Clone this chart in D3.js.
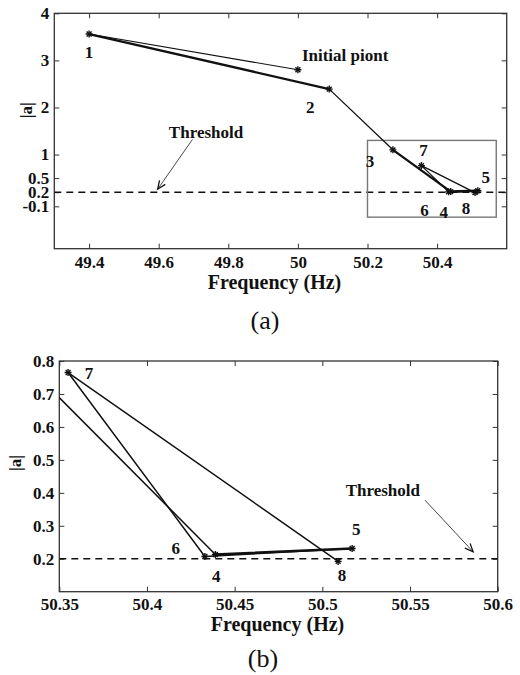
<!DOCTYPE html>
<html><head><meta charset="utf-8">
<script src="https://cdn.jsdelivr.net/npm/d3@7"></script>
<style>
body{margin:0;background:#fff;}
svg{display:block;font-family:"Liberation Serif","Times New Roman",serif;}
</style></head>
<body><svg id="c" width="520" height="675"></svg>
<script>
// ---- data ----
const pointLabels = ["Initial piont","1","2","3","4","5","6","7","8"];
const frequency   = [50.0, 49.4, 50.09, 50.273, 50.439, 50.517, 50.433, 50.355, 50.509];
const magnitude   = [2.8, 3.56, 2.39, 1.10, 0.213, 0.231, 0.207, 0.765, 0.192];
const threshold = 0.2;
const xTicksA = [49.4, 49.6, 49.8, 50, 50.2, 50.4];
const yTicksA = [4, 3, 2, 1, 0.5, 0.2, -0.1];
const xTicksB = [50.35, 50.4, 50.45, 50.5, 50.55, 50.6];
const yTicksB = [0.2, 0.3, 0.4, 0.5, 0.6, 0.7, 0.8];
const zoomBoxA = {x0: 50.2, x1: 50.57, y0: -0.33, y1: 1.3};

// ---- layout / style ----
const svg = d3.select("#c");
const FONT = 17;

function panel(cfg){
  const g = svg.append("g").attr("transform",`translate(${cfg.left},${cfg.top})`);
  const w = cfg.right-cfg.left, h = cfg.bottom-cfg.top;
  const x = d3.scaleLinear().domain(cfg.xDomain).range([0,w]);
  const y = d3.scaleLinear().domain(cfg.yDomain).range([h,0]);
  const clipId = "clip"+cfg.id;
  g.append("clipPath").attr("id",clipId).append("rect").attr("width",w).attr("height",h);

  const fmt = d => String(d);
  const styleAxis = sel => {
    sel.select(".domain").remove();
    sel.selectAll("line").attr("stroke","#333").attr("stroke-width",1);
    sel.selectAll("text").attr("font-size",FONT).attr("font-weight","bold")
      .attr("font-family","Liberation Serif, serif").attr("fill","#111");
  };
  g.append("g").attr("transform",`translate(0,${h})`)
    .call(d3.axisBottom(x).tickValues(cfg.xTicks).tickFormat(fmt).tickSizeInner(-5).tickSizeOuter(0).tickPadding(cfg.xPad))
    .call(styleAxis);
  g.append("g")
    .call(d3.axisTop(x).tickValues(cfg.xTicks).tickFormat("").tickSizeInner(-5).tickSizeOuter(0))
    .call(styleAxis);
  g.append("g")
    .call(d3.axisLeft(y).tickValues(cfg.yTicks).tickFormat(fmt).tickSizeInner(-5).tickSizeOuter(0).tickPadding(5))
    .call(styleAxis);
  g.append("g").attr("transform",`translate(${w},0)`)
    .call(d3.axisRight(y).tickValues(cfg.yTicks).tickFormat("").tickSizeInner(-5).tickSizeOuter(0))
    .call(styleAxis);
  g.append("rect").attr("width",w).attr("height",h).attr("fill","none")
    .attr("stroke","#333").attr("stroke-width",1.3);

  const plot = g.append("g").attr("clip-path",`url(#${clipId})`);
  // threshold
  plot.append("line").attr("x1",0).attr("x2",w).attr("y1",y(threshold)).attr("y2",y(threshold))
    .attr("stroke","#111").attr("stroke-width",1.6).attr("stroke-dasharray","7,5");

  if(cfg.box){
    plot.append("rect").attr("x",x(cfg.box.x0)).attr("y",y(cfg.box.y1))
      .attr("width",x(cfg.box.x1)-x(cfg.box.x0)).attr("height",y(cfg.box.y0)-y(cfg.box.y1))
      .attr("fill","none").attr("stroke","#777").attr("stroke-width",1.4);
  }

  // trajectory segments
  for(let i=0;i<frequency.length-1;i++){
    const sw = cfg.segWidths[i];
    if(!sw) continue;
    plot.append("line")
      .attr("x1",x(frequency[i])).attr("y1",y(magnitude[i]))
      .attr("x2",x(frequency[i+1])).attr("y2",y(magnitude[i+1]))
      .attr("stroke","#111").attr("stroke-width",sw).attr("stroke-linecap","round");
  }
  // markers (asterisk)
  const r = 3.5;
  frequency.forEach((f,i)=>{
    if(f < cfg.xDomain[0] || f > cfg.xDomain[1]) return;
    if(magnitude[i] < cfg.yDomain[0] || magnitude[i] > cfg.yDomain[1]) return;
    const px=x(f), py=y(magnitude[i]);
    const m = plot.append("g").attr("transform",`translate(${px},${py})`)
      .attr("stroke","#111").attr("stroke-width",1.4);
    m.append("line").attr("x1",-r).attr("x2",r).attr("y1",0).attr("y2",0);
    m.append("line").attr("x1",0).attr("x2",0).attr("y1",-r).attr("y2",r);
    m.append("line").attr("x1",-r*0.7).attr("x2",r*0.7).attr("y1",-r*0.7).attr("y2",r*0.7);
    m.append("line").attr("x1",-r*0.7).attr("x2",r*0.7).attr("y1",r*0.7).attr("y2",-r*0.7);
  });
  // point labels
  cfg.labelOffsets.forEach((o,i)=>{
    if(!o) return;
    g.append("text").attr("x",x(frequency[i])+o[0]).attr("y",y(magnitude[i])+o[1])
      .attr("text-anchor",o[2]||"middle").attr("dominant-baseline","central")
      .attr("font-size",FONT).attr("font-weight","bold").attr("fill","#111")
      .text(pointLabels[i]);
  });
  // threshold annotation
  const ta = cfg.thrAnno;
  g.append("text").attr("x",x(ta.tx)).attr("y",y(ta.ty)).attr("text-anchor","middle")
    .attr("dominant-baseline","central").attr("font-size",FONT).attr("font-weight","bold")
    .attr("fill","#111").text("Threshold");
  const x1=x(ta.ax0), y1=y(ta.ay0), x2=x(ta.ax1), y2=y(ta.ay1);
  g.append("line").attr("x1",x1).attr("y1",y1).attr("x2",x2).attr("y2",y2)
    .attr("stroke","#333").attr("stroke-width",0.9);
  const ang = Math.atan2(y2-y1,x2-x1), L=9, spread=0.4;
  g.append("path").attr("d",
    `M${x2-L*Math.cos(ang-spread)},${y2-L*Math.sin(ang-spread)} L${x2},${y2} L${x2-L*Math.cos(ang+spread)},${y2-L*Math.sin(ang+spread)}`)
    .attr("fill","none").attr("stroke","#111").attr("stroke-width",1.3);

  // axis titles
  g.append("text").attr("x",w/2+cfg.xTitleDx).attr("y",cfg.xTitleY).attr("text-anchor","middle")
    .attr("dominant-baseline","central").attr("font-size",20).attr("font-weight","bold")
    .attr("fill","#111").text("Frequency (Hz)");
  g.append("text").attr("transform",`translate(${cfg.yTitleX},${cfg.yTitleY}) rotate(-90)`)
    .attr("text-anchor","middle").attr("dominant-baseline","central")
    .attr("font-size",FONT).attr("font-weight","bold").attr("fill","#111").text("|a|");
  svg.append("text").attr("x",cfg.capX).attr("y",cfg.capY).attr("text-anchor","middle")
    .attr("dominant-baseline","central").attr("font-size",26)
    .attr("font-family","Liberation Serif, serif").attr("fill","#111").text(cfg.caption);
}

panel({
  id:"a", left:54.3, top:13.3, right:506.7, bottom:248.7,
  xDomain:[49.3,50.6], yDomain:[-1,4], xTicks:xTicksA, yTicks:yTicksA, xPad:7,
  box: zoomBoxA,
  segWidths:[1.1,2.3,1.3,2.3,2.6,1.6,1.3,1.3],
  labelOffsets:[[4,-14,"start"],[0,18],[-19,18],[-23,12],[-7,21],[8,-13],[-24,19],[2,-15],[-9,16]],
  thrAnno:{tx:49.736, ty:1.476, ax0:49.697, ay0:1.32, ax1:49.597, ay1:0.264},
  xTitleDx:-6, xTitleY:269, yTitleX:-28, yTitleY:97,
  caption:"(a)", capX:265, capY:320
});
panel({
  id:"b", left:59.3, top:361, right:497.7, bottom:591.7,
  xDomain:[50.35,50.6], yDomain:[0.1,0.8], xTicks:xTicksB, yTicks:yTicksB, xPad:6,
  box:null,
  segWidths:[0,0,0,1.5,2.6,1.6,1.5,1.5],
  labelOffsets:[null,null,null,null,[1,22],[4,-19],[-29,-8],[21,1],[4,14]],
  thrAnno:{tx:50.5345, ty:0.408, ax0:50.5585, ay0:0.378, ax1:50.586, ay1:0.221},
  xTitleDx:-1, xTitleY:263, yTitleX:-44, yTitleY:102,
  caption:"(b)", capX:263, capY:658
});
</script></body></html>
